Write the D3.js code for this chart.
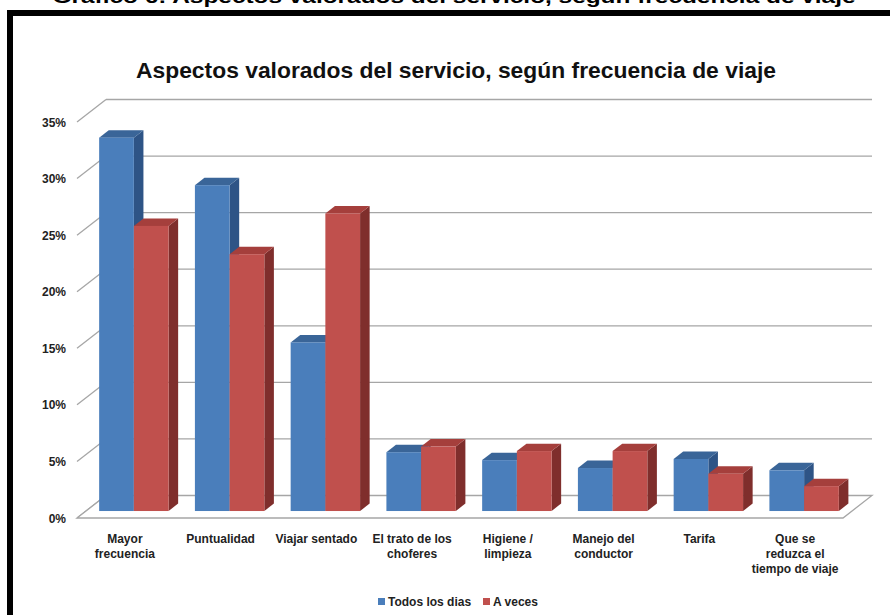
<!DOCTYPE html>
<html>
<head>
<meta charset="utf-8">
<script src="https://cdn.jsdelivr.net/npm/d3@7"></script>
<style>
  html, body { margin: 0; padding: 0; background: #fff; }
  svg { display: block; font-family: "Liberation Sans", Arial, sans-serif; }
</style>
</head>
<body>
<svg id="chart" width="890" height="615"></svg>
<script>
// ---- data ----
const categories = [
  "Mayor\nfrecuencia", "Puntualidad", "Viajar sentado", "El trato de los\nchoferes",
  "Higiene /\nlimpieza", "Manejo del\nconductor", "Tarifa", "Que se\nreduzca el\ntiempo de viaje"
];
const seriesNames = ["Todos los dias", "A veces"];
const todosLosDias = [0.330, 0.288, 0.149, 0.052, 0.045, 0.038, 0.046, 0.036];
const aVeces       = [0.252, 0.227, 0.263, 0.057, 0.053, 0.053, 0.033, 0.022];
const yTicks = [0, 0.05, 0.10, 0.15, 0.20, 0.25, 0.30, 0.35];
const outerTitle = "Gráfico 6: Aspectos valorados del servicio, según frecuencia de viaje";
const chartTitle = "Aspectos valorados del servicio, según frecuencia de viaje";

// ---- styles ----
const colors = [
  { front: "#4a7ebb", top: "#3a6598", side: "#2e5486" },
  { front: "#c0504d", top: "#a53f3c", side: "#7f2e2c" }
];

const svg = d3.select("#chart");

// outer cropped caption
svg.append("text")
  .attr("x", 454).attr("y", 3)
  .attr("text-anchor", "middle")
  .attr("font-weight", "bold").attr("font-size", 19)
  .attr("textLength", 803).attr("lengthAdjust", "spacingAndGlyphs")
  .attr("fill", "#000")
  .text(outerTitle);

// black frame
svg.append("rect")
  .attr("x", 10).attr("y", 13).attr("width", 920).attr("height", 700)
  .attr("fill", "#fff").attr("stroke", "#000").attr("stroke-width", 6);

// chart title
svg.append("text")
  .attr("x", 456).attr("y", 78)
  .attr("text-anchor", "middle")
  .attr("font-weight", "bold").attr("font-size", 22)
  .attr("textLength", 640).attr("lengthAdjust", "spacingAndGlyphs")
  .attr("fill", "#111")
  .text(chartTitle);

// ---- geometry ----
const x0 = 77, x1 = 843;
const depthX = 29, depthY = -22.5;
const y = d3.scaleLinear().domain([0, 0.35]).range([518, 122]);
const x = d3.scaleBand().domain(d3.range(categories.length)).range([x0, x1]).paddingInner(0).paddingOuter(0);
const groupW = x.bandwidth() * 0.725;
const sub = d3.scaleBand().domain([0, 1]).range([0, groupW]);

const gridColor = "#a6a6a6";

// back wall gridlines and diagonal tick lines
const grid = svg.append("g");
yTicks.forEach(t => {
  const yf = y(t);
  grid.append("line")
    .attr("x1", x0).attr("y1", yf).attr("x2", x0 + depthX).attr("y2", yf + depthY)
    .attr("stroke", gridColor).attr("stroke-width", 1.3);
  if (t > 0) {
    grid.append("line")
      .attr("x1", x0 + depthX).attr("y1", yf + depthY).attr("x2", x1 + depthX).attr("y2", yf + depthY)
      .attr("stroke", gridColor).attr("stroke-width", 1.3);
  }
});

// floor
const y0f = y(0);
svg.append("path")
  .attr("d", `M${x0},${y0f} L${x1},${y0f} L${x1 + depthX},${y0f + depthY} L${x0 + depthX},${y0f + depthY} Z`)
  .attr("fill", "#fff").attr("stroke", gridColor).attr("stroke-width", 1.3);

// y tick labels
svg.append("g").selectAll("text").data(yTicks).join("text")
  .attr("x", 66).attr("y", d => y(d) + 4.5)
  .attr("text-anchor", "end")
  .attr("font-weight", "bold").attr("font-size", 12).attr("fill", "#222")
  .text(d => d3.format(".0%")(d));

// bars
const fFront = 0.31, fBack = 0.64;
const offX = depthX * fFront, offY = depthY * fFront;
const bdx = depthX * (fBack - fFront), bdy = depthY * (fBack - fFront);
const series = [todosLosDias, aVeces];
const bars = svg.append("g");
categories.forEach((c, i) => {
  const gx = x(i) + (x.bandwidth() - groupW) / 2 + offX;
  series.forEach((vals, s) => {
    const bx = gx + sub(s);
    const bw = sub.bandwidth();
    const yb = y(0) + offY;
    const yt = y(vals[i]) + offY;
    const col = colors[s];
    const g = bars.append("g");
    // side
    g.append("path")
      .attr("d", `M${bx + bw},${yt} L${bx + bw + bdx},${yt + bdy} L${bx + bw + bdx},${yb + bdy} L${bx + bw},${yb} Z`)
      .attr("fill", col.side);
    // top
    g.append("path")
      .attr("d", `M${bx},${yt} L${bx + bw},${yt} L${bx + bw + bdx},${yt + bdy} L${bx + bdx},${yt + bdy} Z`)
      .attr("fill", col.top);
    // front
    g.append("rect")
      .attr("x", bx).attr("y", yt).attr("width", bw).attr("height", yb - yt)
      .attr("fill", col.front);
  });
});

// category labels
const labels = svg.append("g");
categories.forEach((c, i) => {
  const cx = x(i) + x.bandwidth() / 2;
  const t = labels.append("text")
    .attr("text-anchor", "middle")
    .attr("font-weight", "bold").attr("font-size", 12).attr("fill", "#222");
  c.split("\n").forEach((line, k) => {
    t.append("tspan").attr("x", cx).attr("y", 543 + k * 15).text(line);
  });
});

// legend
const legendItems = [
  { name: seriesNames[0], color: colors[0].front, x: 378 },
  { name: seriesNames[1], color: colors[1].front, x: 483 }
];
const lg = svg.append("g");
legendItems.forEach(d => {
  lg.append("rect").attr("x", d.x).attr("y", 598).attr("width", 7).attr("height", 7).attr("fill", d.color);
  lg.append("text").attr("x", d.x + 10).attr("y", 606)
    .attr("font-weight", "bold").attr("font-size", 12).attr("fill", "#222")
    .text(d.name);
});
</script>
</body>
</html>
